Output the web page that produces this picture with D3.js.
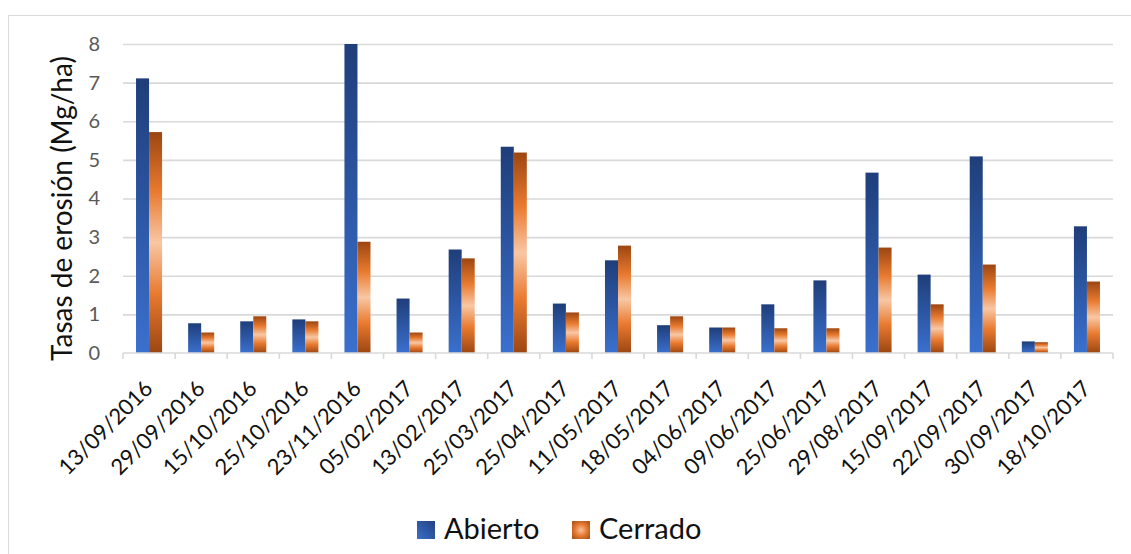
<!DOCTYPE html>
<html>
<head>
<meta charset="utf-8">
<script src="https://cdn.jsdelivr.net/npm/d3@7"></script>
<style>
  html, body { margin: 0; padding: 0; background: #ffffff; }
  svg { display: block; }
</style>
</head>
<body>
<svg id="chart" width="1131" height="554"></svg>
<script>
// Erosion rates per sampling date, open vs closed plots (Mg/ha)
const categories = [
  "13/09/2016", "29/09/2016", "15/10/2016", "25/10/2016", "23/11/2016",
  "05/02/2017", "13/02/2017", "25/03/2017", "25/04/2017", "11/05/2017",
  "18/05/2017", "04/06/2017", "09/06/2017", "25/06/2017", "29/08/2017",
  "15/09/2017", "22/09/2017", "30/09/2017", "18/10/2017"
];
const abierto = [7.11, 0.77, 0.82, 0.87, 8.0, 1.41, 2.68, 5.34, 1.28, 2.40,
                 0.72, 0.66, 1.26, 1.88, 4.67, 2.03, 5.09, 0.30, 3.28];
const cerrado = [5.72, 0.53, 0.95, 0.82, 2.88, 0.53, 2.45, 5.19, 1.05, 2.78,
                 0.95, 0.66, 0.64, 0.64, 2.73, 1.26, 2.29, 0.28, 1.85];
const seriesNames = ["Abierto", "Cerrado"];
const yTicks = [0, 1, 2, 3, 4, 5, 6, 7, 8];
const yTitle = "Tasas de erosión (Mg/ha)";

const FONT = "Lato, 'Open Sans', sans-serif";
const svg = d3.select("#chart");

// chart frame
svg.append("rect")
  .attr("x", 8.5).attr("y", 15.5)
  .attr("width", 1140).attr("height", 560)
  .attr("fill", "#ffffff").attr("stroke", "#d9d9d9").attr("stroke-width", 1);

// gradients
const defs = svg.append("defs");
const gBlue = defs.append("linearGradient").attr("id", "gBlue")
  .attr("x1", 0).attr("y1", 0).attr("x2", 0).attr("y2", 1);
gBlue.append("stop").attr("offset", "0%").attr("stop-color", "#1f3e7a");
gBlue.append("stop").attr("offset", "100%").attr("stop-color", "#3a70ce");

const gOrange = defs.append("linearGradient").attr("id", "gOrange")
  .attr("x1", 0).attr("y1", 0).attr("x2", 0).attr("y2", 1);
[["0%", "#9c4611"], ["27%", "#e97a30"], ["50%", "#f8c7a4"], ["73%", "#e97a30"], ["100%", "#9c4611"]]
  .forEach(([o, c]) => gOrange.append("stop").attr("offset", o).attr("stop-color", c));

const gBlueKey = defs.append("linearGradient").attr("id", "gBlueKey")
  .attr("x1", 1).attr("y1", 0).attr("x2", 0).attr("y2", 1);
gBlueKey.append("stop").attr("offset", "0%").attr("stop-color", "#22417f");
gBlueKey.append("stop").attr("offset", "100%").attr("stop-color", "#3b6fcb");

const gOrangeKey = defs.append("radialGradient").attr("id", "gOrangeKey")
  .attr("cx", 0.5).attr("cy", 0.5).attr("r", 0.6);
gOrangeKey.append("stop").attr("offset", "0%").attr("stop-color", "#f8c29c");
gOrangeKey.append("stop").attr("offset", "55%").attr("stop-color", "#e57a33");
gOrangeKey.append("stop").attr("offset", "100%").attr("stop-color", "#b4581c");

const fills = { Abierto: "url(#gBlue)", Cerrado: "url(#gOrange)" };
const keyFills = { Abierto: "url(#gBlueKey)", Cerrado: "url(#gOrangeKey)" };

// scales
const plotLeft = 123, plotRight = 1113, plotTop = 44, plotBottom = 353;
const x = d3.scaleBand().domain(categories).range([plotLeft, plotRight])
  .paddingInner(0.5).paddingOuter(0.25);
const xs = d3.scaleBand().domain(seriesNames).range([0, x.bandwidth()]);
const y = d3.scaleLinear().domain([0, 8]).range([plotBottom, plotTop]);

// horizontal gridlines
const grid = svg.append("g").attr("transform", `translate(${plotLeft},0)`)
  .call(d3.axisLeft(y).tickValues(yTicks.filter(v => v > 0))
    .tickSize(-(plotRight - plotLeft)).tickFormat(""));
grid.select(".domain").remove();
grid.selectAll(".tick line").attr("stroke", "#d9d9d9").attr("stroke-width", 1.6);

// y tick labels
const yAxis = svg.append("g").attr("transform", `translate(${plotLeft},0)`)
  .call(d3.axisLeft(y).tickValues(yTicks).tickSize(0).tickPadding(23));
yAxis.select(".domain").remove();
yAxis.selectAll("text")
  .attr("font-family", FONT).attr("font-size", 20).attr("fill", "#595959");

// bars
const rows = categories.map((c, i) => ({ cat: c, Abierto: abierto[i], Cerrado: cerrado[i] }));
const groups = svg.append("g").selectAll("g").data(rows).join("g")
  .attr("transform", d => `translate(${x(d.cat)},0)`);
groups.selectAll("rect")
  .data(d => seriesNames.map(s => ({ s, v: d[s] })))
  .join("rect")
  .attr("x", d => xs(d.s))
  .attr("width", xs.bandwidth())
  .attr("y", d => y(d.v))
  .attr("height", d => y(0) - y(d.v))
  .attr("fill", d => fills[d.s]);

// category axis line and boundary ticks
const xAxisG = svg.append("g");
xAxisG.append("line")
  .attr("x1", plotLeft).attr("x2", plotRight)
  .attr("y1", plotBottom).attr("y2", plotBottom)
  .attr("stroke", "#d9d9d9").attr("stroke-width", 1.6);
const bounds = d3.range(categories.length + 1).map(k => plotLeft + k * x.step());
xAxisG.selectAll("line.tk").data(bounds).join("line").attr("class", "tk")
  .attr("x1", d => d).attr("x2", d => d)
  .attr("y1", plotBottom).attr("y2", plotBottom + 6)
  .attr("stroke", "#d9d9d9").attr("stroke-width", 1.6);

// rotated date labels
xAxisG.selectAll("text").data(categories).join("text")
  .attr("transform", d => `translate(${x(d) + x.bandwidth() / 2 + 5},${plotBottom + 37}) rotate(-45)`)
  .attr("text-anchor", "end")
  .attr("font-family", FONT).attr("font-size", 22).attr("fill", "#111111")
  .text(d => d);

// y axis title
svg.append("text")
  .attr("transform", `translate(72,${(plotTop + plotBottom) / 2 + 10}) rotate(-90)`)
  .attr("text-anchor", "middle")
  .attr("font-family", FONT).attr("font-size", 28).attr("fill", "#111111")
  .text(yTitle);

// legend
const legendItems = [
  { s: "Abierto", x: 417 },
  { s: "Cerrado", x: 572 }
];
const lg = svg.append("g").selectAll("g").data(legendItems).join("g")
  .attr("transform", d => `translate(${d.x},521)`);
lg.append("rect").attr("width", 18).attr("height", 18)
  .attr("fill", d => keyFills[d.s]);
lg.append("text").attr("x", 27).attr("y", 18)
  .attr("font-family", FONT).attr("font-size", 29).attr("fill", "#111111")
  .text(d => d.s);
</script>
</body>
</html>
